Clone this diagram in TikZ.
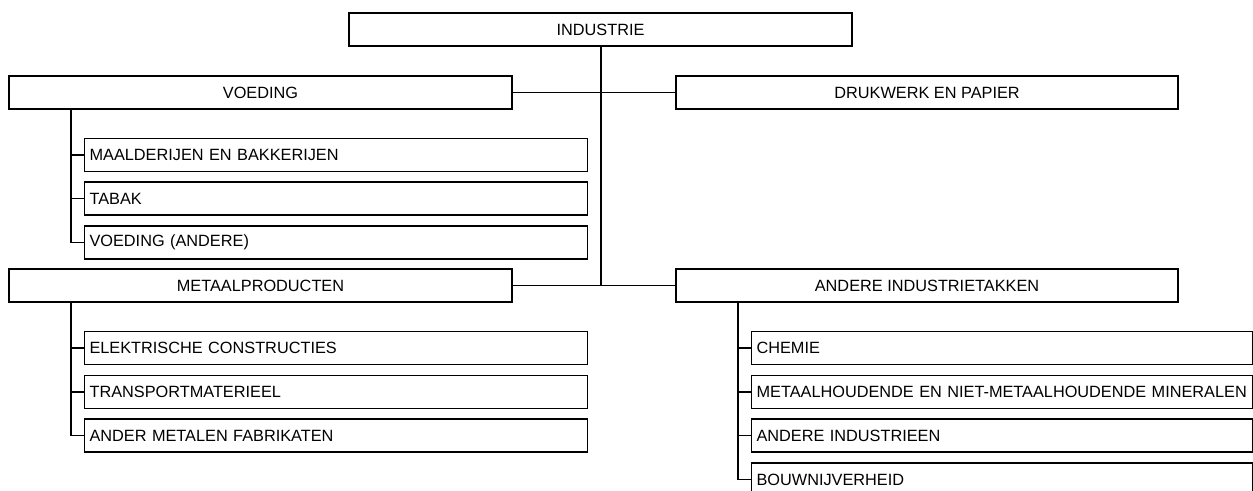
\documentclass[tikz,border=0pt]{standalone}
\usepackage{fontspec}
\setmainfont{Liberation Sans}
\usepackage{tikz}
\usetikzlibrary{positioning}

\begin{document}
\begin{tikzpicture}[
  x=1pt, y=-1pt,
  font=\fontsize{16.3}{19}\selectfont,
  mainbox/.style={rectangle, draw=black, line width=1.1pt, minimum width=503pt, minimum height=33pt, inner sep=0pt},
  subbox/.style={rectangle, draw=black, line width=1.1pt, anchor=west, text width=493pt, align=left, inner xsep=5pt, inner ysep=0pt, minimum height=33pt},
  trunk/.style={draw=black, line width=2pt},
  branch/.style={draw=black, line width=1.1pt}
]
  \useasboundingbox (0,0) rectangle (1253,490);
  % top level
  \node[mainbox] (ind) at (600.5,29.5) {INDUSTRIE};
  \node[mainbox] (voed) at (260.5,92.5) {VOEDING};
  \node[mainbox, minimum width=502pt] (druk) at (927,92.5) {DRUKWERK EN PAPIER};
  \node[mainbox] (metaal) at (260.5,285.5) {METAALPRODUCTEN};
  \node[mainbox, minimum width=502pt] (andind) at (927,285.5) {ANDERE INDUSTRIETAKKEN};
  \coordinate (trunkend) at (600.5,285.5);
  \draw[trunk] (ind.south) -- (trunkend);
  \draw[branch] (voed) -- (druk);
  \draw[branch] (metaal) -- (andind);
  % voeding
  \node[subbox] (maal) at (84,155) {MAALDERIJEN EN BAKKERIJEN};
  \node[subbox] (tabak) at (84,198.5) {TABAK};
  \node[subbox] (voedand) at (84,242.5) {VOEDING (ANDERE)};
  \coordinate (voedtrunk) at (71,109);
  \foreach \s in {maal,tabak,voedand}
    \draw[branch] (voedtrunk) |- (\s.west);
  % metaalproducten
  \node[subbox] (elek) at (84,348) {ELEKTRISCHE CONSTRUCTIES};
  \node[subbox] (transp) at (84,392) {TRANSPORTMATERIEEL};
  \node[subbox] (fabr) at (84,435.5) {ANDER METALEN FABRIKATEN};
  \coordinate (metaaltrunk) at (71,302);
  \foreach \s in {elek,transp,fabr}
    \draw[branch] (metaaltrunk) |- (\s.west);
  % andere industrietakken
  \node[subbox, text width=491pt] (chemie) at (751,348) {CHEMIE};
  \node[subbox, text width=491pt] (miner) at (751,392) {METAALHOUDENDE EN NIET-METAALHOUDENDE MINERALEN};
  \node[subbox, text width=491pt] (andere) at (751,435.5) {ANDERE INDUSTRIEEN};
  \node[subbox, text width=491pt] (bouw) at (751,479.5) {BOUWNIJVERHEID};
  \coordinate (andtrunk) at (738,302);
  \foreach \s in {chemie,miner,andere,bouw}
    \draw[branch] (andtrunk) |- (\s.west);
\end{tikzpicture}
\end{document}
